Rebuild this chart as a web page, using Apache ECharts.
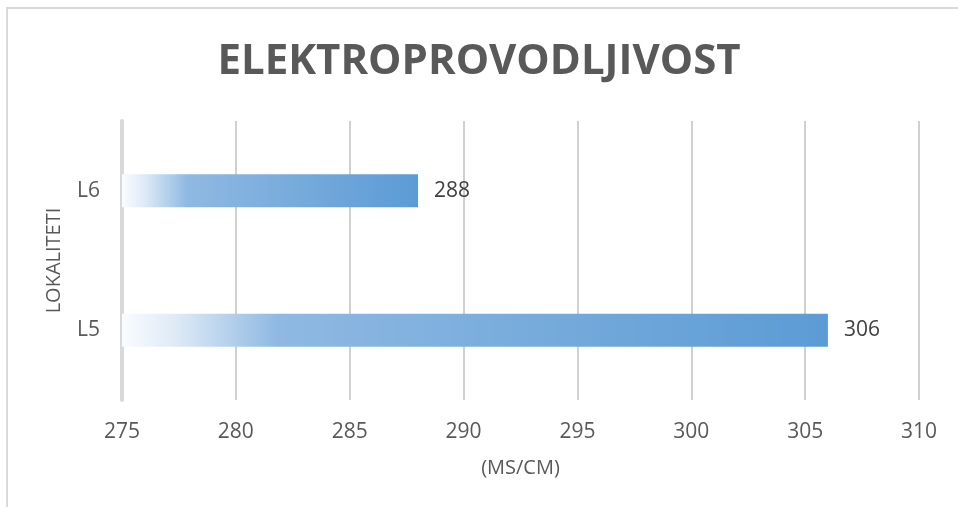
<!DOCTYPE html>
<html>
<head>
<meta charset="utf-8">
<script src="https://cdn.jsdelivr.net/npm/echarts@6/dist/echarts.min.js"></script>
<style>
  html, body { margin: 0; padding: 0; background: #fff; }
  #frame {
    position: absolute; left: 6px; top: 7px;
    width: 1000px; height: 600px;
    border: 2px solid #d9d9d9;
  }
  #chart { position: absolute; left: 0; top: 0; width: 958px; height: 507px; }
</style>
</head>
<body>
<div id="frame"></div>
<div id="chart"></div>
<script>
// podaci
const lokaliteti = ['L5', 'L6']
const vrijednosti = [306, 288]
const xTicks = [275, 280, 285, 290, 295, 300, 305, 310]

const myChart = echarts.init(document.getElementById('chart'))
const option = {
  title: {
    text: 'ELEKTROPROVODLJIVOST',
    left: 'center',
    top: 36,
    textStyle: {
      fontFamily: 'Open Sans',
      fontWeight: 'bold',
      fontSize: 42,
      color: '#595959'
    }
  },
  grid: {
    left: 122,
    right: 39,
    top: 121,
    bottom: 107
  },
  xAxis: {
    type: 'value',
    min: xTicks[0],
    max: xTicks[xTicks.length - 1],
    interval: 5,
    startValue: xTicks[0],
    name: '(MS/CM)',
    nameLocation: 'middle',
    nameGap: 58,
    nameTextStyle: { fontFamily: 'Open Sans', fontSize: 20, color: '#595959' },
    axisLine: { show: false },
    axisTick: { show: false },
    axisLabel: { margin: 22, fontFamily: 'Open Sans', fontSize: 21, color: '#595959' },
    splitLine: { show: true, lineStyle: { color: '#d0d0d0', width: 2 } }
  },
  yAxis: {
    type: 'category',
    data: lokaliteti,
    name: 'LOKALITETI',
    nameLocation: 'middle',
    nameGap: 58,
    nameRotate: 90,
    nameTextStyle: { fontFamily: 'Open Sans', fontSize: 20, color: '#595959' },
    axisLine: { show: true, lineStyle: { color: '#d9d9d9', width: 4 } },
    axisTick: { show: false },
    axisLabel: { margin: 22, fontFamily: 'Open Sans', fontSize: 21, color: '#595959' },
    splitLine: { show: false }
  },
  series: [
    {
      type: 'bar',
      data: vrijednosti,
      barWidth: 33,
      z: 1,
      itemStyle: {
        color: new echarts.graphic.LinearGradient(0, 0, 1, 0, [
          { offset: 0, color: '#fafcff' },
          { offset: 0.08, color: '#dce9f6' },
          { offset: 0.22, color: '#8fb9e2' },
          { offset: 1, color: '#5b9bd5' }
        ])
      },
      label: {
        show: true,
        position: 'right',
        distance: 16,
        fontFamily: 'Open Sans',
        fontSize: 21,
        color: '#404040'
      }
    }
  ]
}
myChart.setOption(option)
</script>
</body>
</html>
